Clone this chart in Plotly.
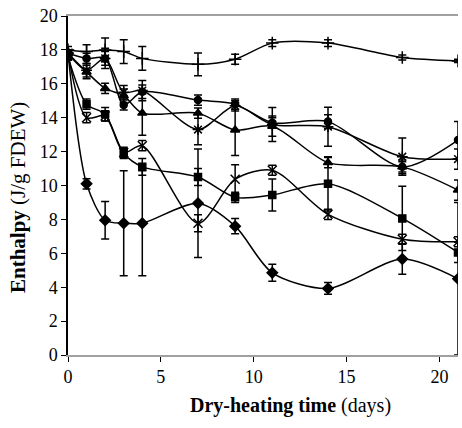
import plotly.graph_objects as go

days = [0, 1, 2, 3, 4, 7, 9, 11, 14, 18, 21]

diamond_y = [17.8, 10.1, 7.95, 7.77, 7.77, 8.95, 7.6, 4.85, 3.93, 5.66, 4.5]
diamond_e = [0.2, 0.3, 1.1, 3.1, 3.1, 3.2, 0.45, 0.5, 0.35, 0.9, 4.5]

square_y = [17.6, 14.8, 14.2, 11.9, 11.1, 10.5, 9.3, 9.44, 10.1, 8.06, 6.05]
square_e = [0.2, 0.3, 0.4, 0.3, 0.5, 0.5, 0.3, 0.95, 1.6, 1.9, 0.6]

triangle_y = [17.8, 16.7, 15.73, 15.3, 14.27, 14.27, 13.27, 13.5, 11.35, 11.1, 9.73]
triangle_e = [0.2, 0.4, 0.3, 0.4, 1.3, 0.3, 1.5, 0.6, 0.3, 0.4, 0.6]

xmark_y = [17.8, 14.0, 14.1, 11.95, 12.35, 7.77, 10.37, 10.9, 8.3, 6.83, 6.68]
xmark_e = [0.2, 0.3, 0.3, 0.3, 0.3, 0.5, 0.85, 0.3, 0.3, 0.3, 0.3]

star_y = [17.8, 16.8, 17.5, 15.5, 15.6, 13.3, 14.7, 13.6, 13.47, 11.7, 11.56]
star_e = [0.2, 0.4, 0.6, 0.4, 0.6, 0.9, 0.3, 1.0, 1.15, 1.1, 0.6]

circle_y = [17.8, 17.5, 17.5, 14.75, 15.53, 15.04, 14.8, 13.7, 13.77, 11.1, 12.68]
circle_e = [0.2, 0.3, 0.4, 0.3, 0.4, 0.3, 0.3, 0.3, 0.4, 0.3, 1.1]

plus_y = [18.0, 17.9, 18.0, 17.9, 17.5, 17.15, 17.45, 18.4, 18.4, 17.55, 17.35]
plus_e = [0.2, 0.4, 0.7, 0.7, 0.7, 0.67, 0.3, 0.2, 0.2, 0.15, 0.1]

x_title = "<b>Dry-heating time</b> (days)"
y_title = "<b>Enthalpy</b> (J/g FDEW)"

series = [
    (diamond_y, diamond_e, "diamond", 8),
    (square_y, square_e, "square", 7),
    (triangle_y, triangle_e, "triangle-up", 8),
    (xmark_y, xmark_e, "x-thin-open", 9),
    (star_y, star_e, "asterisk-open", 9),
    (circle_y, circle_e, "circle", 7),
    (plus_y, plus_e, "cross-thin-open", 9),
]

fig = go.Figure()
for y, e, sym, sz in series:
    fig.add_trace(go.Scatter(
        x=days, y=y, mode="lines+markers",
        line=dict(color="black", width=1.5, shape="spline", smoothing=0.8),
        marker=dict(symbol=sym, size=sz, color="black",
                    line=dict(color="black", width=1.5)),
        error_y=dict(type="data", array=e, visible=True, color="black",
                     thickness=1.5, width=4),
        showlegend=False,
    ))

serif = "Liberation Serif, Times New Roman, serif"
fig.update_layout(
    width=462, height=428,
    margin=dict(l=68, r=4, t=16, b=73),
    plot_bgcolor="white", paper_bgcolor="white",
    font=dict(family=serif, size=18, color="black"),
    annotations=[
        dict(text=x_title, xref="paper", yref="paper",
             x=(290 - 68) / 390, y=(355 - 405) / 339,
             xanchor="center", yanchor="middle", showarrow=False,
             font=dict(family=serif, size=20)),
        dict(text=y_title, xref="paper", yref="paper",
             x=(18 - 68) / 390, y=(355 - 198) / 339,
             xanchor="center", yanchor="middle", showarrow=False,
             textangle=-90, font=dict(family=serif, size=21)),
    ],
)
fig.update_xaxes(
    range=[0, 21], tickvals=[0, 5, 10, 15, 20],
    showgrid=False, zeroline=False,
    showline=True, linecolor="#a0a0a0", linewidth=1.5, mirror=True,
    ticks="outside", ticklen=5, tickcolor="black",
)
fig.update_yaxes(
    range=[0, 20], tickvals=list(range(0, 21, 2)),
    showgrid=False, zeroline=False,
    showline=True, linecolor="black", linewidth=1.5,
    ticks="outside", ticklen=5, tickcolor="black",
)
fig.write_html("out.html")
